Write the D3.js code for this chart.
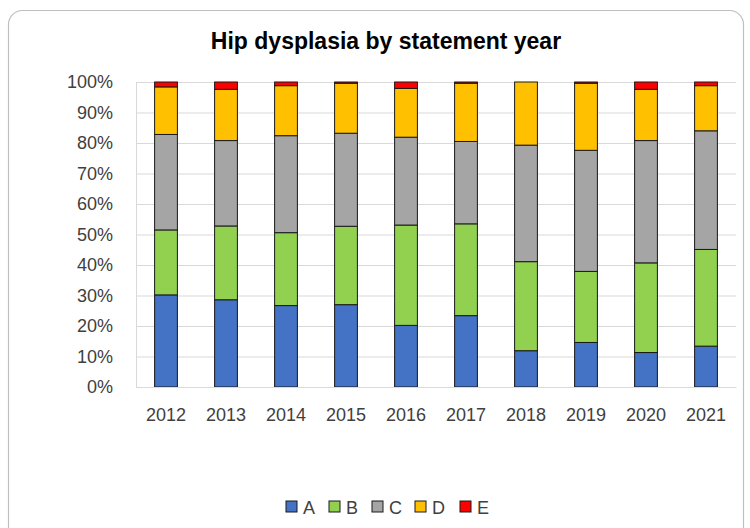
<!DOCTYPE html>
<html><head><meta charset="utf-8">
<script src="https://cdn.jsdelivr.net/npm/d3@7"></script>
<style>body{margin:0;background:#fff;}svg{display:block;}</style>
</head><body>
<svg id="chart" width="750" height="528"></svg>
<script>
const years = ["2012","2013","2014","2015","2016","2017","2018","2019","2020","2021"];
const seriesNames = ["A","B","C","D","E"];
const seriesA = [30.2, 28.6, 26.7, 27.0, 20.2, 23.4, 11.9, 14.6, 11.3, 13.4];
const seriesB = [21.3, 24.2, 23.9, 25.7, 32.9, 30.1, 29.2, 23.3, 29.4, 31.7];
const seriesC = [31.3, 28.0, 31.8, 30.5, 28.8, 27.0, 38.2, 39.7, 40.1, 38.9];
const seriesD = [15.6, 16.8, 16.4, 16.4, 16.0, 19.1, 20.7, 22.0, 16.8, 14.8];
const seriesE = [1.6, 2.4, 1.2, 0.4, 2.1, 0.4, 0.0, 0.4, 2.4, 1.2];
const yTicks = [0,10,20,30,40,50,60,70,80,90,100];
const colors = ["#4472C4","#92D050","#A5A5A5","#FFC000","#FF0000"];

const svg = d3.select("#chart");
const font = "'Liberation Sans', Arial, sans-serif";

// outer frame
svg.append("rect").attr("x",8.5).attr("y",10.5).attr("width",735).attr("height",540)
  .attr("rx",14).attr("fill","#fff").attr("stroke","#bfbfbf").attr("stroke-width",1.2);

const pLeft = 136, pRight = 736, pTop = 82, pBottom = 387;
const x = d3.scaleBand().domain(years).range([pLeft, pRight]).paddingInner(0.62).paddingOuter(0.31);
const y = d3.scaleLinear().domain([0,100]).range([pBottom, pTop]);

// gridlines
svg.append("g").selectAll("line").data(yTicks).join("line")
  .attr("x1",pLeft).attr("x2",pRight).attr("y1",d=>y(d)+0.5).attr("y2",d=>y(d)+0.5)
  .attr("stroke","#d9d9d9").attr("stroke-width",1);
svg.append("line").attr("x1",pLeft+0.5).attr("x2",pLeft+0.5).attr("y1",pTop).attr("y2",pBottom)
  .attr("stroke","#d9d9d9");

// stack
const rows = years.map((yr,i)=>({year:yr, A:seriesA[i], B:seriesB[i], C:seriesC[i], D:seriesD[i], E:seriesE[i]}));
const stack = d3.stack().keys(seriesNames)(rows);
svg.append("g").selectAll("g").data(stack).join("g")
  .attr("fill",(d,i)=>colors[i])
  .selectAll("rect").data(d=>d).join("rect")
  .attr("x",d=>x(d.data.year)).attr("width",x.bandwidth())
  .attr("y",d=>y(d[1])).attr("height",d=>Math.max(0,y(d[0])-y(d[1])))
  .attr("stroke","#1a1a1a").attr("stroke-width",1);

// y axis
const yAxis = d3.axisLeft(y).tickValues(yTicks).tickFormat(d=>d+"%").tickSize(0).tickPadding(23);
const gy = svg.append("g").attr("transform",`translate(${pLeft},0)`).call(yAxis);
gy.select(".domain").remove();
gy.selectAll("text").attr("font-family",font).attr("font-size",18).attr("fill","#404040");

// x axis
const xAxis = d3.axisBottom(x).tickSize(0).tickPadding(21.5);
const gx = svg.append("g").attr("transform",`translate(0,${pBottom})`).call(xAxis);
gx.select(".domain").attr("stroke","#d9d9d9");
gx.selectAll("text").attr("font-family",font).attr("font-size",18).attr("fill","#404040");

// title
svg.append("text").attr("x",386).attr("y",48.5).attr("text-anchor","middle")
  .attr("font-family",font).attr("font-weight","bold").attr("font-size",23).attr("fill","#000")
  .text("Hip dysplasia by statement year");

// legend
const legendX = [286, 329, 372, 415, 460];
const lg = svg.append("g").selectAll("g").data(seriesNames).join("g")
  .attr("transform",(d,i)=>`translate(${legendX[i]},501)`);
lg.append("rect").attr("width",11).attr("height",11).attr("fill",(d,i)=>colors[i])
  .attr("stroke","#1a1a1a").attr("stroke-width",1);
lg.append("text").attr("x",17).attr("y",12.5).attr("font-family",font).attr("font-size",18)
  .attr("fill","#404040").text(d=>d);
</script>
</body></html>
